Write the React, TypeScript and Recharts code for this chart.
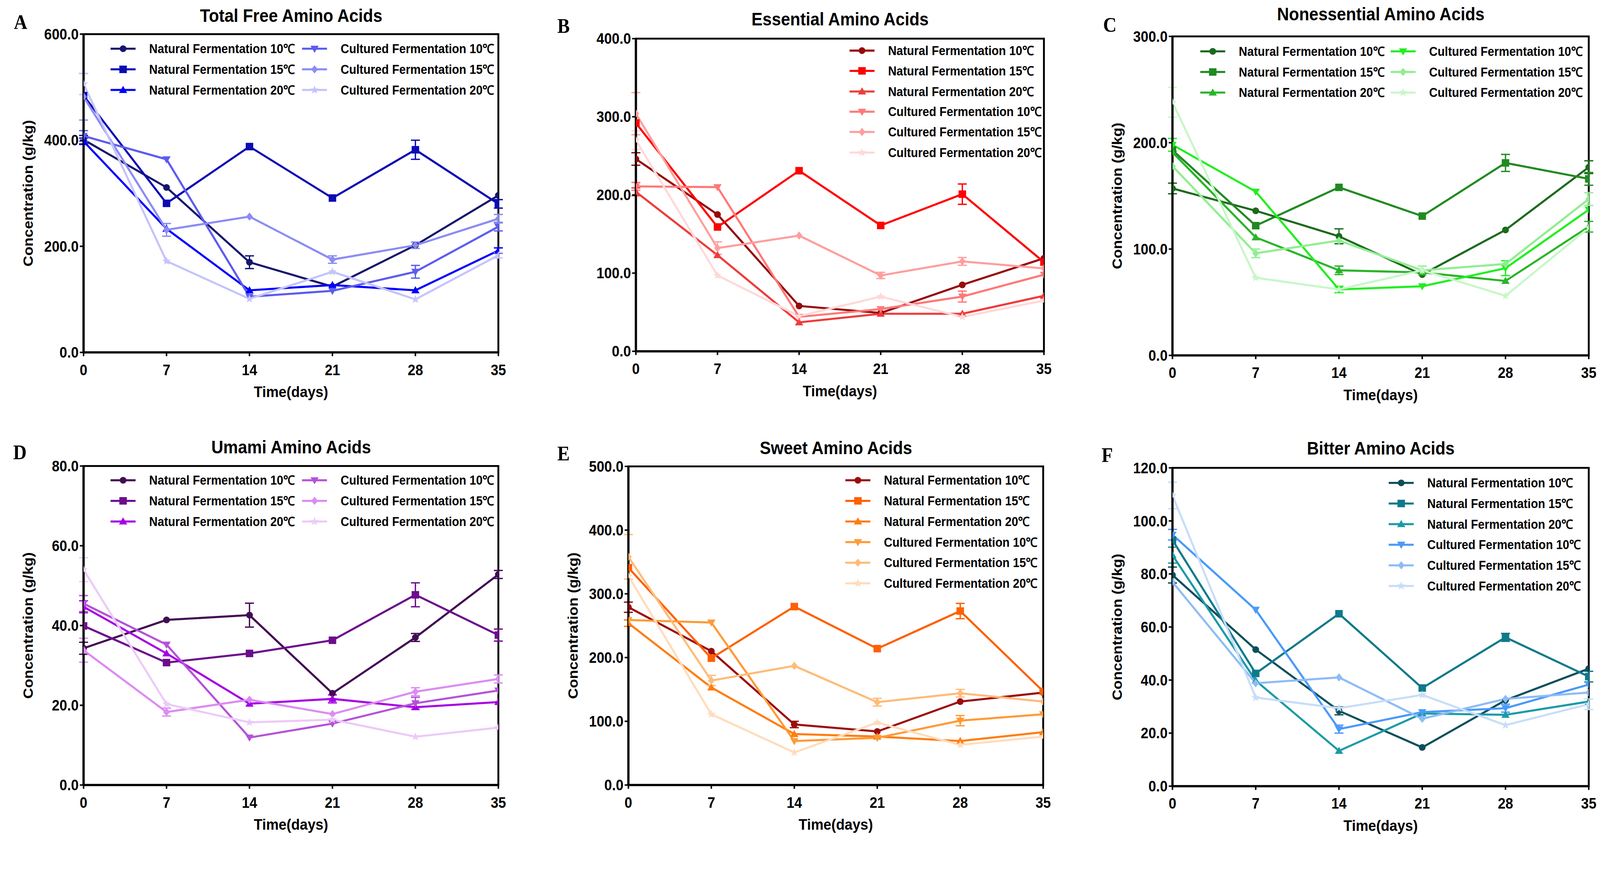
import React from "react";
import { LineChart, Line, XAxis, YAxis, ReferenceArea, ErrorBar, Legend, Label } from "recharts";

const SANS = '"Liberation Sans", Arial, sans-serif';
const SERIF = '"Liberation Serif", "Times New Roman", serif';
// the source figure is slightly compressed horizontally
const SQUEEZE = 0.92;

const PAGE_W = 4270;
const PAGE_H = 2244;

const days = [0, 7, 14, 21, 28, 35];

const seriesNames = [
  "Natural Fermentation 10℃",
  "Natural Fermentation 15℃",
  "Natural Fermentation 20℃",
  "Cultured Fermentation 10℃",
  "Cultured Fermentation 15℃",
  "Cultured Fermentation 20℃",
];
const markerShapes = ["circle", "square", "triangle", "triangleDown", "diamond", "star"];

// one row per series (same order as seriesNames), one value per day
const totalFreeValues = [
  [401, 311, 170, 124, 202, 296],
  [484, 281, 388, 291, 382, 280],
  [398, 233, 117, 127, 117, 192],
  [408, 364, 105, 116, 152, 237],
  [482, 231, 256, 175, 202, 252],
  [506, 172, 101, 152, 100, 183],
];
const totalFreeErrors = [
  [8, 0, 12, 0, 0, 0],
  [0, 0, 0, 0, 18, 8],
  [6, 0, 0, 0, 0, 5],
  [10, 0, 0, 0, 12, 8],
  [44, 12, 0, 7, 6, 8],
  [20, 0, 0, 0, 0, 5],
];

const essentialValues = [
  [246, 175, 58, 49, 85, 119],
  [292, 159, 231, 161, 201, 114],
  [204, 123, 37, 48, 48, 71],
  [211, 210, 44, 54, 70, 98],
  [304, 132, 148, 97, 115, 106],
  [270, 97, 45, 70, 44, 65],
];
const essentialErrors = [
  [8, 0, 0, 0, 0, 0],
  [0, 0, 0, 0, 13, 0],
  [5, 0, 0, 0, 0, 0],
  [5, 0, 0, 0, 7, 0],
  [27, 8, 0, 4, 5, 0],
  [12, 0, 0, 0, 0, 0],
];

const nonessentialValues = [
  [157, 136, 112, 76, 118, 177],
  [193, 122, 158, 131, 181, 166],
  [191, 111, 80, 78, 70, 121],
  [198, 154, 62, 65, 82, 137],
  [178, 96, 108, 80, 86, 147],
  [238, 73, 62, 80, 56, 120],
];
const nonessentialErrors = [
  [5, 0, 7, 0, 0, 6],
  [0, 0, 0, 0, 8, 6],
  [0, 0, 4, 0, 0, 5],
  [6, 0, 3, 0, 7, 0],
  [0, 4, 0, 4, 0, 6],
  [14, 0, 0, 0, 0, 0],
];

const umamiValues = [
  [34.3, 41.4, 42.6, 23.0, 37.0, 52.8],
  [39.9, 30.7, 33.0, 36.3, 47.7, 37.6],
  [44.7, 33.0, 20.4, 21.6, 19.5, 20.8],
  [45.5, 35.2, 11.9, 15.4, 20.5, 23.7],
  [33.8, 18.3, 21.4, 17.8, 23.4, 26.6],
  [54.0, 20.3, 15.7, 16.4, 12.1, 14.4],
];
const umamiErrors = [
  [1.5, 0, 3, 0, 1, 1],
  [0, 0, 0, 0, 3, 1.5],
  [1.5, 0, 0, 1, 0, 0],
  [2, 0, 0, 0, 1.5, 0],
  [3, 1, 0, 0, 1, 1],
  [3, 0, 0, 0, 0, 0],
];

const sweetValues = [
  [279, 210, 95, 84, 131, 145],
  [341, 199, 280, 214, 273, 147],
  [254, 153, 80, 76, 69, 83],
  [259, 255, 69, 74, 101, 111],
  [358, 164, 187, 130, 144, 131],
  [328, 111, 51, 98, 63, 76],
];
const sweetErrors = [
  [8, 0, 5, 0, 0, 0],
  [0, 0, 0, 0, 12, 0],
  [5, 0, 0, 0, 0, 0],
  [0, 0, 0, 0, 8, 0],
  [35, 8, 0, 6, 6, 0],
  [0, 0, 0, 0, 0, 0],
];

const bitterValues = [
  [79.6, 51.5, 28.4, 14.6, 32.4, 44.3],
  [92.8, 42.5, 65.0, 37.0, 56.1, 41.3],
  [87.1, 39.8, 13.3, 27.4, 26.9, 31.9],
  [94.8, 66.5, 21.5, 27.9, 29.4, 38.3],
  [77.0, 38.8, 41.0, 25.4, 32.9, 35.3],
  [109.6, 33.4, 29.4, 34.4, 23.0, 30.9],
];
const bitterErrors = [
  [3, 0, 1.5, 0, 0, 0],
  [0, 0, 0, 0, 1.5, 2],
  [3, 0, 0, 0, 0, 0],
  [2, 0, 1.5, 0, 1.5, 0],
  [0, 0, 0, 0, 0, 0],
  [5, 0, 0, 0, 0, 2],
];

const PANELS = [
  {
    letter: "A", title: "Total Free Amino Acids", values: totalFreeValues, errors: totalFreeErrors,
    colors: ["#16166e", "#0b0bb4", "#0000ff", "#5c5cf0", "#8c8cf5", "#c4c4fa"],
    yMax: 600, yTicks: [0, 200, 400, 600], yLabel: true,
    plot: { l: 223, r: 1330, t: 91, b: 940 }, titleY: 42, letterPos: { x: 55, y: 59 },
    legend: { x: 295, y: 102, cols: 2, colW: 511, rowH: 55 },
  },
  {
    letter: "B", title: "Essential Amino Acids", values: essentialValues, errors: essentialErrors,
    colors: ["#960a0a", "#ff0000", "#ef3b3b", "#ff7878", "#ff9e9e", "#ffd8d8"],
    yMax: 400, yTicks: [0, 100, 200, 300, 400], yLabel: false,
    plot: { l: 1697, r: 2786, t: 103, b: 937 }, titleY: 52, letterPos: { x: 1504, y: 70 },
    legend: { x: 2267, y: 108, cols: 1, colW: 520, rowH: 54.3 },
  },
  {
    letter: "C", title: "Nonessential Amino Acids", values: nonessentialValues, errors: nonessentialErrors,
    colors: ["#1c6a1c", "#218a21", "#2ab42a", "#22ee22", "#90ee90", "#c8f7c8"],
    yMax: 300, yTicks: [0, 100, 200, 300], yLabel: true,
    plot: { l: 3129, r: 4240, t: 97, b: 948 }, titleY: 38, letterPos: { x: 2962, y: 66 },
    legend: { x: 3203, y: 109, cols: 2, colW: 508, rowH: 55 },
  },
  {
    letter: "D", title: "Umami Amino Acids", values: umamiValues, errors: umamiErrors,
    colors: ["#420c52", "#6c0e8c", "#a602e4", "#b552d8", "#dc8cf2", "#eccaf8"],
    yMax: 80, yTicks: [0, 20, 40, 60, 80], yLabel: true,
    plot: { l: 223, r: 1330, t: 1243, b: 2094 }, titleY: 1193, letterPos: { x: 53, y: 1207 },
    legend: { x: 295, y: 1253, cols: 2, colW: 511, rowH: 55 },
  },
  {
    letter: "E", title: "Sweet Amino Acids", values: sweetValues, errors: sweetErrors,
    colors: ["#9c0c0c", "#ff6000", "#ff7d10", "#ff9a36", "#ffbb78", "#ffdcbc"],
    yMax: 500, yTicks: [0, 100, 200, 300, 400, 500], yLabel: true,
    plot: { l: 1677, r: 2784, t: 1244, b: 2094 }, titleY: 1195, letterPos: { x: 1504, y: 1210 },
    legend: { x: 2256, y: 1253, cols: 1, colW: 520, rowH: 55 },
  },
  {
    letter: "F", title: "Bitter Amino Acids", values: bitterValues, errors: bitterErrors,
    colors: ["#0c4f5c", "#0f7a8a", "#1b9ba6", "#4a9af8", "#8ebcf5", "#c8ddf8"],
    yMax: 120, yTicks: [0, 20, 40, 60, 80, 100, 120], yLabel: true,
    plot: { l: 3129, r: 4240, t: 1248, b: 2097 }, titleY: 1196, letterPos: { x: 2955, y: 1214 },
    legend: { x: 3706, y: 1260, cols: 1, colW: 520, rowH: 55 },
  },
];

const PAD_L = 240;
const PAD_T = 30;
const PAD_R = 60;
const PAD_B = 170;
const Y_W = 200;
const X_H = 150;

const textStyle = { fontFamily: SANS, fontWeight: 700, fill: "#000" };

function starPoints(cx: number, cy: number, ro: number, ri: number) {
  const pts: string[] = [];
  for (let i = 0; i < 10; i++) {
    const r = i % 2 === 0 ? ro : ri;
    const a = -Math.PI / 2 + (i * Math.PI) / 5;
    pts.push(`${cx + r * Math.cos(a)},${cy + r * Math.sin(a)}`);
  }
  return pts.join(" ");
}

function Marker({ shape, cx, cy, color }: { shape: string; cx: number; cy: number; color: string }) {
  switch (shape) {
    case "circle":
      return <circle cx={cx} cy={cy} r={9} fill={color} />;
    case "square":
      return <rect x={cx - 10} y={cy - 10} width={20} height={20} fill={color} />;
    case "triangle":
      return <polygon points={`${cx},${cy - 11} ${cx + 11},${cy + 8} ${cx - 11},${cy + 8}`} fill={color} />;
    case "triangleDown":
      return <polygon points={`${cx},${cy + 11} ${cx + 11},${cy - 8} ${cx - 11},${cy - 8}`} fill={color} />;
    case "diamond":
      return <polygon points={`${cx},${cy - 11} ${cx + 9},${cy} ${cx},${cy + 11} ${cx - 9},${cy}`} fill={color} />;
    default:
      return <polygon points={starPoints(cx, cy, 12, 5)} fill={color} />;
  }
}

const makeDot = (shape: string, color: string) => (props: any) => {
  const { cx, cy, index } = props;
  if (cx == null || cy == null) return <g key={`m-${index}`} />;
  return (
    <g key={`m-${index}`}>
      <Marker shape={shape} cx={cx} cy={cy} color={color} />
    </g>
  );
};

function XTick(props: any) {
  const { x, y, payload } = props;
  return (
    <text
      transform={`translate(${x},${y}) scale(${SQUEEZE},1)`}
      textAnchor="middle"
      dy="0.71em"
      style={{ ...textStyle, fontSize: 40 }}
    >
      {payload.value}
    </text>
  );
}

function YTick(props: any) {
  const { x, y, payload } = props;
  return (
    <text
      transform={`translate(${x},${y}) scale(${SQUEEZE},1)`}
      textAnchor="end"
      dy="0.355em"
      style={{ ...textStyle, fontSize: 40 }}
    >
      {Number(payload.value).toFixed(1)}
    </text>
  );
}

function LegendBox({ colors, cols, colW, rowH }: { colors: string[]; cols: number; colW: number; rowH: number }) {
  const rows = cols === 2 ? 3 : 6;
  return (
    <div
      style={{
        display: "grid",
        gridAutoFlow: "column",
        gridTemplateRows: `repeat(${rows}, ${rowH}px)`,
        gridTemplateColumns: cols === 2 ? `${colW}px ${colW}px` : `${colW}px`,
      }}
    >
      {seriesNames.map((name, k) => (
        <div key={name} style={{ display: "flex", alignItems: "center", height: rowH }}>
          <svg width={67} height={26} style={{ marginRight: 36, flex: "none" }}>
            <line x1={0} y1={13} x2={67} y2={13} stroke={colors[k]} strokeWidth={5.5} />
            <Marker shape={markerShapes[k]} cx={33.5} cy={13} color={colors[k]} />
          </svg>
          <span
            style={{
              display: "inline-block",
              transform: `scaleX(${SQUEEZE})`,
              transformOrigin: "left center",
              fontFamily: SANS,
              fontWeight: 700,
              fontSize: 34,
              lineHeight: 1,
              color: "#000",
              whiteSpace: "nowrap",
            }}
          >
            {name}
          </span>
        </div>
      ))}
    </div>
  );
}

function Panel({ p }: { p: (typeof PANELS)[number] }) {
  const plotW = p.plot.r - p.plot.l;
  const plotH = p.plot.b - p.plot.t;
  const left = p.plot.l - PAD_L;
  const top = p.plot.t - PAD_T;

  const rows = days.map((d, i) => {
    const row: Record<string, number> = { day: d };
    p.values.forEach((s, k) => {
      row[`s${k}`] = s[i];
      row[`e${k}`] = p.errors[k][i];
    });
    return row;
  });

  return (
    <>
      <div
        style={{
          position: "absolute",
          left: p.letterPos.x,
          top: p.letterPos.y,
          transform: `translate(-50%, -50%) scaleX(${SQUEEZE})`,
          fontFamily: SERIF,
          fontWeight: 700,
          fontSize: 54,
          lineHeight: 1,
        }}
      >
        {p.letter}
      </div>
      <div
        style={{
          position: "absolute",
          left: (p.plot.l + p.plot.r) / 2,
          top: p.titleY,
          transform: `translate(-50%, -50%) scaleX(${SQUEEZE})`,
          fontFamily: SANS,
          fontWeight: 700,
          fontSize: 48,
          lineHeight: 1,
          whiteSpace: "nowrap",
        }}
      >
        {p.title}
      </div>
      <div style={{ position: "absolute", left, top }}>
        <LineChart
          width={plotW + PAD_L + PAD_R}
          height={plotH + PAD_T + PAD_B}
          data={rows}
          margin={{ top: PAD_T, right: PAD_R, left: PAD_L - Y_W, bottom: PAD_B - X_H }}
        >
          <XAxis
            dataKey="day"
            type="number"
            domain={[0, 35]}
            ticks={days}
            allowDataOverflow
            height={X_H}
            tick={<XTick />}
            tickSize={10}
            tickMargin={22}
            tickLine={{ stroke: "#000", strokeWidth: 4 }}
            axisLine={{ stroke: "#000", strokeWidth: 6 }}
          >
            <Label
              content={(lp: any) => {
                const vb = lp.viewBox;
                return (
                  <text
                    transform={`translate(${vb.x + vb.width / 2},${vb.y + 105}) scale(${SQUEEZE},1)`}
                    textAnchor="middle"
                    dy="0.355em"
                    style={{ ...textStyle, fontSize: 41 }}
                  >
                    Time(days)
                  </text>
                );
              }}
            />
          </XAxis>
          <YAxis
            type="number"
            domain={[0, p.yMax]}
            ticks={p.yTicks}
            allowDataOverflow
            width={Y_W}
            tick={<YTick />}
            tickSize={10}
            tickMargin={3}
            tickLine={{ stroke: "#000", strokeWidth: 4 }}
            axisLine={{ stroke: "#000", strokeWidth: 6 }}
          >
            {p.yLabel && (
              <Label
                content={(lp: any) => {
                  const vb = lp.viewBox;
                  const x = vb.x + vb.width - 148;
                  const y = vb.y + vb.height / 2;
                  return (
                    <text
                      transform={`translate(${x},${y}) rotate(-90) scale(1,${SQUEEZE})`}
                      textAnchor="middle"
                      dy="0.355em"
                      style={{ ...textStyle, fontSize: 40 }}
                    >
                      Concentration (g/kg)
                    </text>
                  );
                }}
              />
            )}
          </YAxis>
          <ReferenceArea x1={0} x2={35} y1={0} y2={p.yMax} fill="none" stroke="#000" strokeWidth={5} />
          {p.values.map((_, k) => (
            <Line
              key={k}
              type="linear"
              dataKey={`s${k}`}
              name={seriesNames[k]}
              stroke={p.colors[k]}
              strokeWidth={5.5}
              dot={makeDot(markerShapes[k], p.colors[k])}
              activeDot={false}
              isAnimationActive={false}
            >
              <ErrorBar dataKey={`e${k}`} direction="y" width={12} strokeWidth={3.5} stroke={p.colors[k]} />
            </Line>
          ))}
          <Legend
            layout="vertical"
            align="center"
            verticalAlign="middle"
            wrapperStyle={{ left: p.legend.x - left, top: p.legend.y - top, width: "auto" }}
            content={() => (
              <LegendBox colors={p.colors} cols={p.legend.cols} colW={p.legend.colW} rowH={p.legend.rowH} />
            )}
          />
        </LineChart>
      </div>
    </>
  );
}

export default function App() {
  // the layout is drawn in reference pixels and fitted to whatever viewport the page gets
  const vw = typeof window !== "undefined" ? window.innerWidth : PAGE_W;
  const vh = typeof window !== "undefined" ? window.innerHeight : PAGE_H;
  const k = Math.min(vw / PAGE_W, vh / PAGE_H, 1);
  return (
    <div
      style={{
        position: "absolute",
        left: 0,
        top: 0,
        width: PAGE_W,
        height: PAGE_H,
        background: "#fff",
        overflow: "hidden",
        transform: `scale(${k})`,
        transformOrigin: "0 0",
      }}
    >
      {PANELS.map((p) => (
        <Panel key={p.letter} p={p} />
      ))}
    </div>
  );
}
